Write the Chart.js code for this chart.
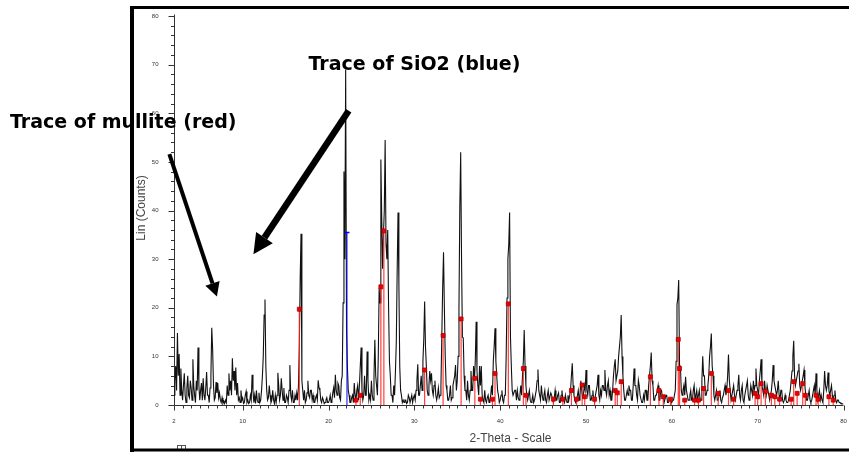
<!DOCTYPE html>
<html>
<head>
<meta charset="utf-8">
<title>XRD pattern - mullite and SiO2</title>
<script src="https://cdn.jsdelivr.net/npm/chart.js@4.4.1/dist/chart.umd.min.js"></script>
<style>
  html, body { margin: 0; padding: 0; background: #fff; }
  #xrd { display: block; }
</style>
</head>
<body>
<canvas id="xrd" width="849" height="452"></canvas>
<script>
// measured pattern, 2.0 .. 80.0 deg 2-theta, one value every 0.1 deg (one row = 1 deg)
const thetaStart = 2;
const thetaStep = 0.1;
const counts = [
  2, 5, 8, 3, 14.8, 6, 10.5, 2, 7.5, 3,              // 2
  1, 4, 6.5, 2, 0.5, 3.5, 6, 2, 1.5, 5,              // 3
  3.5, 1, 9.4, 4, 2, 0.5, 5, 3, 11.8, 4,             // 4
  1, 3, 4.5, 1, 5.5, 2, 1, 3.5, 6.8, 2,              // 5
  2, 0.5, 3.5, 6, 15.9, 11.5, 4, 1, 1.5, 4.7,        // 6
  2.5, 4.5, 1.5, 2.5, 1, 0.5, 1.5, 0.3, 0.8, 0.3,    // 7
  1, 0.5, 4, 2, 6.5, 3, 5, 2, 9.6, 5,                // 8
  7, 3, 7.7, 2, 4.5, 1, 1.5, 0.5, 3, 1,              // 9
  1.5, 0.3, 0.5, 2, 2.8, 0.5, 1, 0.3, 0.5, 2,        // 10
  1, 6.2, 3, 0.5, 2, 0.3, 3, 1, 0.5, 2.5,            // 11
  0.5, 1, 3, 6, 10, 18.5, 21.7, 8, 3, 1,             // 12
  1.5, 4, 2, 0.5, 1, 3, 1, 0.3, 2, 0.5,              // 13
  2, 6.6, 4, 1, 2, 5.5, 3, 1, 3.5, 0.5,              // 14
  0.5, 2, 1.5, 0.5, 3, 8.2, 2, 1, 3, 0.5,            // 15
  0.5, 2, 1, 2.5, 1, 4, 12, 26, 35.2, 5,             // 16
  3, 1, 3, 0.5, 1, 2.5, 5, 2, 1.5, 3,                // 17
  3, 1, 2, 0.5, 0.5, 1.5, 2, 1, 5.1, 3.5,            // 18
  3, 1, 0.5, 1.5, 1, 0.3, 0.5, 1, 1.5, 0.5,          // 19
  0.5, 1, 2, 0.5, 1, 2.5, 3.5, 1.5, 6.2, 3,          // 20
  2, 4.5, 4, 1.5, 1, 5, 6, 21, 48, 30,               // 21
  69, 15.4, 8, 3, 2, 0.5, 0.5, 1.5, 2, 0.5,          // 22
  4.5, 2, 1, 3, 4, 1, 4, 7.9, 11.8, 3,               // 23
  1, 2, 6, 2, 2, 11, 5, 1, 2, 1,                     // 24
  5, 2, 1, 6, 13.4, 6, 4, 2, 10, 24,                 // 25
  21, 50.5, 38.7, 28, 35, 40, 54.5, 33, 30, 36,      // 26
  20, 9, 6, 2, 2, 0.5, 4, 2, 7, 13,                  // 27
  27.5, 39.6, 25, 8, 3, 2, 0.5, 1, 0.5, 1,           // 28
  1, 0.3, 0.5, 2, 1.5, 0.5, 0.5, 2, 0.5, 1.5,        // 29
  2, 1, 3, 5, 8.4, 2, 2, 4, 6, 3,                    // 30
  9, 13.5, 21.3, 12, 8, 3, 2, 4, 7, 5,               // 31
  6.5, 3, 2, 4, 5, 2, 1, 2, 3.5, 1.5,                // 32
  2, 4, 14, 24, 31.4, 20, 10, 4, 3, 1,               // 33
  1, 2, 4, 1, 1.5, 4, 5, 6, 8.2, 3,                  // 34
  5, 10, 20, 41, 52, 30, 14, 13.8, 6, 3,             // 35
  3, 1, 5, 2, 1, 3, 7, 3, 3, 8,                      // 36
  5, 9, 17.1, 7, 4, 2, 8, 4, 8, 2,                   // 37
  1, 0.5, 3, 1, 0.5, 1.5, 2, 0.5, 1, 2,              // 38
  4, 2, 9, 12, 15.8, 9, 6, 3, 2, 0.5,                // 39
  1, 2, 3, 1, 0.5, 2, 2, 10, 22, 30,                 // 40
  33, 39.6, 14, 8, 3, 2, 2, 3, 3, 1,                 // 41
  3, 1.5, 1, 2, 4, 2, 6, 9, 15.4, 8,                 // 42
  4, 2, 1, 2, 3, 1, 0.5, 1, 2, 0.5,                  // 43
  1, 2, 3, 5, 7.3, 3, 2, 1, 4, 2,                    // 44
  1, 2, 3, 1, 0.5, 2, 3, 1, 1, 2.5,                  // 45
  2, 1, 0.5, 1.5, 3, 1, 1, 2, 2.5, 0.5,              // 46
  0.5, 2, 3, 1, 1, 0.5, 2, 1, 0.5, 2,                // 47
  1, 2, 3, 6, 8.6, 4, 2, 1, 0.5, 1,                  // 48
  2, 3, 1, 2, 5, 3, 1.5, 2, 4, 3,                    // 49
  7.2, 3, 2, 4, 4, 1, 1, 2, 3, 1,                    // 50
  0.5, 2, 3, 4, 6.2, 2, 1, 3, 2, 4,                  // 51
  4, 3, 7.2, 3, 2, 4, 5, 2, 3, 1,                    // 52
  1, 3, 6, 8, 9.4, 5, 5, 7, 10, 12,                  // 53
  14, 18.5, 10, 6, 3, 1, 1, 2, 3, 2,                 // 54
  4, 3, 3, 1, 1, 4, 7.5, 4, 4, 2,                    // 55
  1, 5.1, 4, 2, 2, 0.5, 0.5, 2, 1, 3,                // 56
  3, 1, 1, 4, 6, 8, 10.8, 5, 4, 1,                   // 57
  1, 2, 2, 3, 4, 1, 1, 3, 3, 1.5,                    // 58
  1.5, 0.5, 0.5, 2, 2, 0.5, 0.5, 1, 1, 0.5,          // 59
  0.5, 1, 1, 2, 3, 9, 20.6, 22, 25.7, 8,             // 60
  8, 3, 2, 3, 4, 2, 5.8, 3, 2, 1,                    // 61
  1, 2, 3, 1, 1, 3, 4, 1, 2, 3,                      // 62
  1, 2, 3, 1, 1, 5, 10, 6, 6, 2,                     // 63
  2, 3, 4, 6, 10, 12, 14.7, 8, 6, 2,                 // 64
  1, 2, 3, 1, 1, 2, 3, 1, 0.5, 1.5,                  // 65
  2, 3, 4, 2, 3, 6, 10.4, 5, 3, 1,                   // 66
  1, 3, 4, 2, 1, 2, 3, 4, 6.2, 2,                    // 67
  1, 3, 4, 1, 0.5, 2, 3, 4, 5, 2,                    // 68
  1, 2, 4, 3, 2, 5, 3, 4, 7.5, 4,                    // 69
  3, 2, 5, 7, 9.4, 4, 3, 2, 5, 3,                    // 70
  2, 4, 4, 2, 1, 2, 3, 5, 8.2, 5,                    // 71
  4, 3, 2, 3, 5, 2, 1, 3, 3, 1,                      // 72
  0.5, 1, 2, 1, 0.5, 0.5, 1, 2, 3, 5,                // 73
  7, 10, 13.2, 6, 4, 5, 6, 7, 8.5, 4,                // 74
  3, 4, 5, 6, 7.2, 4, 2, 1, 1, 2,                    // 75
  3, 1, 0.5, 1, 2, 3, 4, 2, 6.5, 3,                  // 76
  1, 2, 3, 1, 2, 1, 0.5, 3, 7, 4,                    // 77
  3, 4, 6.7, 3, 2, 3, 4, 2, 1, 2,                    // 78
  3, 1, 0.5, 1, 1, 0.5, 0.5, 0.3, 0.3, 0.2,          // 79
  0.2                                                // 80
];

// mullite reference lines (red)
const mulliteTheta = [16.6, 23.2, 23.7, 26.1, 26.45, 31.2, 33.35, 35.45, 37.05, 37.7,
  39.1, 39.4, 40.95, 42.7, 43.0, 46.2, 47.3, 48.3, 48.9, 49.55,
  49.85, 51.0, 53.4, 53.65, 54.1, 57.5, 58.5, 59.0, 59.85, 60.75,
  60.9, 61.5, 62.65, 63.1, 63.7, 64.6, 65.4, 66.6, 67.2, 69.7,
  70.0, 70.4, 70.9, 71.6, 72.0, 72.55, 73.9, 74.2, 74.6, 75.25,
  75.55, 76.8, 77.05, 78.3, 78.8];
const mulliteCounts = [19.7, 1, 2, 24.3, 35.8, 7.2, 14.3, 17.7, 5.5, 1.2,
  1.2, 6.5, 20.8, 7.5, 2, 1.2, 1.2, 3, 1.2, 4.1,
  1.7, 1.2, 3, 2.5, 4.8, 5.8, 3, 1.7, 1.2, 13.5,
  7.5, 1, 1, 1, 3.4, 6.5, 2.4, 3, 1.2, 2.4,
  1.7, 4.4, 2.8, 2, 1.7, 1.2, 1.2, 4.8, 2.4, 4.4,
  2, 2, 1.2, 1.7, 1];

// SiO2 reference line (blue)
const sio2Theta = [22.15];
const sio2Counts = [35.5];

const xTickLabels = [2, 10, 20, 30, 40, 50, 60, 70, 80];
const yTickLabels = [0, 10, 20, 30, 40, 50, 60, 70, 80];
const xMinorStep = 1;
const yMinorStep = 2;

const patternPoints = counts.map((c, i) => ({ x: +(thetaStart + i * thetaStep).toFixed(1), y: c }));

function stickPoints(thetas, heights) {
  const pts = [];
  thetas.forEach((t, i) => {
    pts.push({ x: t, y: 0 }, { x: t, y: heights[i] }, { x: t, y: null });
  });
  return pts;
}

function topPoints(thetas, heights) {
  return thetas.map((t, i) => ({ x: t, y: heights[i] }));
}

function drawArrow(ctx, x0, y0, x1, y1, width, headLen, headWidth) {
  const ang = Math.atan2(y1 - y0, x1 - x0);
  const bx = x1 - headLen * Math.cos(ang);
  const by = y1 - headLen * Math.sin(ang);
  ctx.lineWidth = width;
  ctx.lineCap = 'butt';
  ctx.beginPath();
  ctx.moveTo(x0, y0);
  ctx.lineTo(bx, by);
  ctx.stroke();
  const nx = -Math.sin(ang) * headWidth / 2;
  const ny = Math.cos(ang) * headWidth / 2;
  ctx.beginPath();
  ctx.moveTo(x1, y1);
  ctx.lineTo(bx + nx, by + ny);
  ctx.lineTo(bx - nx, by - ny);
  ctx.closePath();
  ctx.fill();
}

// axes, frame and annotations are drawn by hand, DIFFRAC style
const xrdFrame = {
  id: 'xrdFrame',
  beforeDatasetsDraw(chart) {
    const { ctx } = chart;
    const x = chart.scales.x, y = chart.scales.y;
    const axisX = Math.round(x.getPixelForValue(xTickLabels[0])) + 0.5;
    const axisY = Math.round(y.getPixelForValue(0)) + 0.5;
    const yTop = Math.round(y.getPixelForValue(80)) + 0.5;

    ctx.save();
    ctx.strokeStyle = '#333';
    ctx.lineWidth = 1;
    ctx.beginPath();
    ctx.moveTo(axisX, yTop - 2);
    ctx.lineTo(axisX, axisY);
    ctx.lineTo(x.getPixelForValue(80), axisY);
    for (let v = 0; v <= 80; v += yMinorStep) {
      const py = Math.round(y.getPixelForValue(v)) + 0.5;
      const len = v % 10 === 0 ? 6 : 3.5;
      ctx.moveTo(axisX - len, py);
      ctx.lineTo(axisX, py);
    }
    for (let v = 2; v <= 80; v += xMinorStep) {
      const px = Math.round(x.getPixelForValue(v)) + 0.5;
      const len = xTickLabels.includes(v) ? 5 : 3;
      ctx.moveTo(px, axisY);
      ctx.lineTo(px, axisY + len);
    }
    ctx.stroke();

    ctx.fillStyle = '#333';
    ctx.font = '6px "Liberation Sans", Arial, sans-serif';
    ctx.textAlign = 'right';
    ctx.textBaseline = 'middle';
    yTickLabels.forEach(v => ctx.fillText(String(v), axisX - 16, y.getPixelForValue(v)));
    ctx.textAlign = 'center';
    xTickLabels.forEach(v => ctx.fillText(String(v), x.getPixelForValue(v), axisY + 16));

    ctx.fillStyle = '#444';
    ctx.font = '12px "Liberation Sans", Arial, sans-serif';
    ctx.textBaseline = 'alphabetic';
    ctx.fillText('2-Theta - Scale', 510.5, 441.5);
    ctx.save();
    ctx.translate(144.5, 208);
    ctx.rotate(-Math.PI / 2);
    ctx.fillText('Lin (Counts)', 0, 0);
    ctx.restore();

    // little window icon at the bottom edge
    ctx.strokeStyle = '#555';
    ctx.strokeRect(177.5, 445.5, 8, 5);
    ctx.beginPath();
    ctx.moveTo(181.5, 445.5);
    ctx.lineTo(181.5, 450.5);
    ctx.stroke();
    ctx.restore();
  },
  afterDraw(chart) {
    const { ctx } = chart;
    const x = chart.scales.x, y = chart.scales.y;
    ctx.save();
    // picture frame
    ctx.fillStyle = '#000';
    ctx.fillRect(130, 6, 719, 3);
    ctx.fillRect(130, 6, 4, 446);
    ctx.fillRect(130, 448.5, 719, 3);

    ctx.font = 'bold 19px "DejaVu Sans", Verdana, sans-serif';
    ctx.textAlign = 'left';
    ctx.textBaseline = 'alphabetic';
    ctx.fillText('Trace of mullite (red)', 10, 128);
    ctx.fillText('Trace of SiO2 (blue)', 308.5, 70);

    ctx.strokeStyle = '#000';
    drawArrow(ctx, x.getPixelForValue(1.46), y.getPixelForValue(51.6),
      x.getPixelForValue(7.0), y.getPixelForValue(22.3), 4, 14, 15);
    drawArrow(ctx, x.getPixelForValue(22.35), y.getPixelForValue(60.5),
      x.getPixelForValue(11.25), y.getPixelForValue(31.0), 6.5, 20, 20);
    ctx.restore();
  }
};

new Chart(document.getElementById('xrd'), {
  type: 'line',
  data: {
    datasets: [
      {
        label: 'SiO2',
        type: 'scatter',
        data: topPoints(sio2Theta, sio2Counts),
        pointStyle: 'line',
        pointRadius: 2.5,
        borderColor: '#0000ff',
        borderWidth: 1.5,
        order: 0
      },
      {
        label: 'Mullite',
        type: 'scatter',
        data: topPoints(mulliteTheta, mulliteCounts),
        pointStyle: 'rect',
        pointRadius: 2.8,
        backgroundColor: '#ee0000',
        borderColor: '#b00000',
        borderWidth: 0.8,
        order: 1
      },
      {
        label: 'SiO2 lines',
        data: stickPoints(sio2Theta, sio2Counts),
        borderColor: '#0000ff',
        borderWidth: 1,
        pointRadius: 0,
        spanGaps: false,
        order: 2
      },
      {
        label: 'Mullite lines',
        data: stickPoints(mulliteTheta, mulliteCounts),
        borderColor: 'rgba(255, 40, 40, 0.9)',
        borderWidth: 1.2,
        pointRadius: 0,
        spanGaps: false,
        order: 3
      },
      {
        label: 'Pattern',
        data: patternPoints,
        borderColor: '#111',
        borderWidth: 1.1,
        pointRadius: 0,
        tension: 0,
        order: 4
      }
    ]
  },
  options: {
    responsive: false,
    animation: false,
    layout: { padding: { left: 174, right: 0.5, top: 16, bottom: 47 } },
    scales: {
      x: { type: 'linear', min: 2, max: 80, display: false },
      y: { type: 'linear', min: 0, max: 80, display: false }
    },
    plugins: {
      legend: { display: false },
      tooltip: { enabled: false }
    }
  },
  plugins: [xrdFrame]
});
</script>
</body>
</html>
